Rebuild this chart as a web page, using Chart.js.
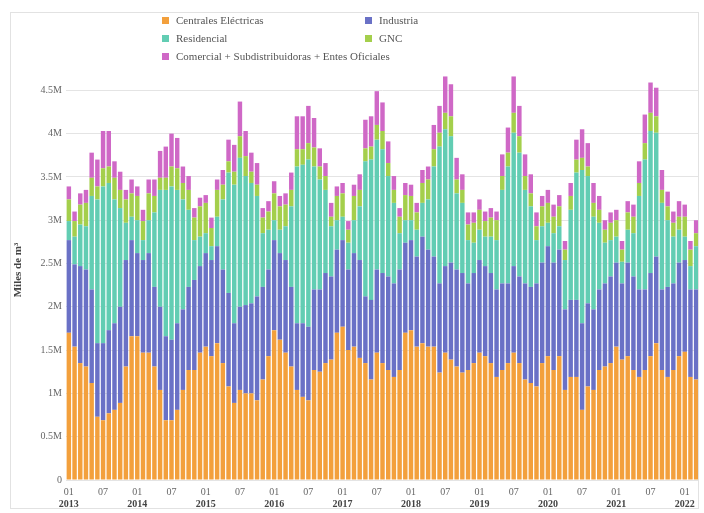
<!DOCTYPE html>
<html>
<head>
<meta charset="utf-8">
<script src="https://cdn.jsdelivr.net/npm/chart.js@4/dist/chart.umd.min.js"></script>
<style>
  html, body { margin:0; padding:0; background:#fff; }
  #wrap { position:relative; width:704px; height:513px; }
  #frame { position:absolute; left:10px; top:12px; width:689px; height:497px; border:1px solid #e2e2e2; box-sizing:border-box; pointer-events:none; }
  canvas { position:absolute; left:0; top:0; }
  .lg { position:absolute; font-family:"Liberation Serif", serif; font-size:11px; color:#555; line-height:12px; white-space:nowrap; }
  .lg i { display:inline-block; width:7px; height:7px; margin-right:7px; vertical-align:0px; }
</style>
</head>
<body>
<div id="wrap">
  <canvas id="c" width="704" height="513"></canvas>
  <div id="frame"></div>
  <div id="legend"></div>
</div>
<script>
// Categories: monthly, Jan 2013 .. Mar 2022
const startYear = 2013;
const categories = [];
for (let k = 0; k < 111; k++) {
  const y = startYear + Math.floor(k / 12);
  const m = (k % 12) + 1;
  categories.push(y + '-' + (m < 10 ? '0' + m : m));
}
const monthTickLabels = { '01': '01', '07': '07' };
const yTickLabels = ['0', '0.5M', '1M', '1.5M', '2M', '2.5M', '3M', '3.5M', '4M', '4.5M'];

// Values in millions of "miles de m³"
const centralesElectricas = [1.70,1.54,1.35,1.31,1.12,0.73,0.69,0.77,0.81,0.89,1.31,1.66,
1.66,1.47,1.47,1.31,1.04,0.69,0.69,0.81,1.04,1.27,1.27,1.47,
1.54,1.43,1.58,1.35,1.08,0.89,1.04,1.00,1.00,0.92,1.16,1.43,
1.73,1.62,1.47,1.31,1.04,0.96,0.92,1.27,1.25,1.35,1.39,1.70,
1.77,1.50,1.54,1.41,1.35,1.16,1.47,1.35,1.27,1.19,1.27,1.70,
1.73,1.54,1.58,1.54,1.54,1.24,1.47,1.39,1.31,1.24,1.27,1.35,
1.47,1.43,1.35,1.19,1.27,1.35,1.47,1.35,1.16,1.12,1.08,1.35,
1.43,1.27,1.43,1.04,1.19,1.19,0.81,1.08,1.04,1.27,1.31,1.35,
1.54,1.39,1.43,1.27,1.19,1.27,1.43,1.58,1.27,1.19,1.27,1.43,
1.48,1.19,1.16];

const industria = [1.07,0.95,1.12,1.12,1.08,0.85,0.89,0.96,1.00,1.11,1.23,1.11,
0.96,1.07,1.15,0.92,0.96,0.97,0.93,1.00,0.93,0.96,1.04,1.00,
1.08,1.11,1.12,1.08,1.08,0.92,0.96,1.02,1.04,1.20,1.07,1.00,
1.04,1.00,1.07,0.92,0.77,0.85,0.85,0.93,0.95,1.04,0.96,0.96,
1.00,0.93,1.08,1.13,0.77,0.92,0.96,1.04,1.08,1.08,1.16,1.04,
1.04,1.04,1.23,1.12,1.04,1.03,1.00,1.12,1.12,1.15,1.00,1.04,
1.07,1.04,1.04,1.01,1.00,0.92,1.00,1.00,1.11,1.11,1.19,1.16,
1.27,1.24,1.23,0.93,0.89,0.89,1.00,0.96,0.93,0.93,0.96,1.00,
0.97,0.88,1.08,1.08,1.01,0.93,0.96,1.00,0.93,1.04,1.00,1.08,
1.06,1.01,1.04];

const residencial = [0.22,0.32,0.48,0.50,1.08,1.66,1.81,1.70,1.43,1.14,0.43,0.27,
0.38,0.23,0.38,0.86,1.35,1.69,1.77,1.54,1.27,0.89,0.46,0.34,
0.23,0.16,0.34,0.81,1.39,1.60,1.72,1.49,1.39,1.16,0.62,0.46,
0.23,0.27,0.39,0.93,1.81,1.83,1.93,1.42,1.27,0.96,0.58,0.34,
0.27,0.31,0.38,0.62,1.56,1.62,1.50,1.43,1.16,0.93,0.42,0.26,
0.23,0.31,0.39,0.58,1.04,1.58,1.58,1.46,0.88,0.81,0.50,0.35,
0.35,0.34,0.42,0.57,1.08,1.35,1.54,1.43,1.08,0.93,0.50,0.42,
0.27,0.34,0.27,0.57,1.04,1.47,1.77,1.47,1.07,0.77,0.47,0.42,
0.30,0.25,0.38,0.50,1.08,1.50,1.64,1.43,1.00,0.77,0.54,0.38,
0.27,0.27,0.50];

const gnc = [0.25,0.18,0.23,0.27,0.21,0.15,0.21,0.19,0.25,0.21,0.27,0.27,
0.28,0.22,0.31,0.19,0.14,0.14,0.23,0.25,0.19,0.23,0.26,0.35,
0.35,0.21,0.31,0.17,0.13,0.15,0.25,0.23,0.13,0.13,0.18,0.21,
0.31,0.27,0.25,0.19,0.20,0.18,0.19,0.22,0.15,0.16,0.11,0.28,
0.27,0.15,0.28,0.19,0.15,0.15,0.17,0.21,0.15,0.15,0.19,0.29,
0.28,0.20,0.23,0.23,0.20,0.16,0.19,0.23,0.16,0.15,0.18,0.23,
0.23,0.18,0.22,0.23,0.16,0.16,0.23,0.19,0.16,0.15,0.16,0.23,
0.23,0.19,0.23,0.12,0.16,0.15,0.14,0.11,0.16,0.15,0.15,0.20,
0.19,0.14,0.20,0.19,0.15,0.19,0.21,0.19,0.15,0.16,0.16,0.15,
0.23,0.19,0.15];

const comercial = [0.15,0.11,0.13,0.15,0.29,0.31,0.43,0.41,0.19,0.21,0.11,0.16,
0.11,0.13,0.16,0.19,0.31,0.36,0.38,0.35,0.19,0.16,0.11,0.10,
0.09,0.12,0.12,0.17,0.25,0.31,0.40,0.29,0.22,0.25,0.11,0.12,
0.14,0.12,0.13,0.20,0.38,0.38,0.43,0.34,0.21,0.15,0.16,0.11,
0.12,0.10,0.13,0.18,0.33,0.35,0.39,0.33,0.25,0.16,0.10,0.14,
0.13,0.11,0.15,0.15,0.28,0.31,0.42,0.37,0.25,0.18,0.14,0.12,
0.12,0.11,0.11,0.10,0.25,0.29,0.42,0.35,0.25,0.22,0.16,0.12,
0.15,0.14,0.13,0.10,0.15,0.23,0.33,0.27,0.23,0.16,0.11,0.12,
0.12,0.10,0.13,0.14,0.25,0.33,0.35,0.33,0.23,0.17,0.13,0.18,
0.14,0.10,0.15];

const seriesNames = ['Centrales Eléctricas', 'Industria', 'Residencial', 'GNC', 'Comercial + Subdistribuidoras + Entes Oficiales'];
const seriesColors = ['#F3A03C', '#6A71C6', '#62CDB3', '#A4CF4C', '#CF68C6'];
const seriesData = [centralesElectricas, industria, residencial, gnc, comercial];

// HTML legend (two columns, like the reference)
const legendPos = [[162, 14], [365, 14], [162, 32], [365, 32], [162, 50]];
const lg = document.getElementById('legend');
seriesNames.forEach((name, s) => {
  const d = document.createElement('div');
  d.className = 'lg';
  d.style.left = legendPos[s][0] + 'px';
  d.style.top = legendPos[s][1] + 'px';
  d.innerHTML = '<i style="background:' + seriesColors[s] + '"></i>' + name;
  lg.appendChild(d);
});

const serif = '"Liberation Serif", "DejaVu Serif", serif';

function monthLabel(i) {
  const m = categories[i].slice(5);
  if (m === '01') return [monthTickLabels[m], categories[i].slice(0, 4)];
  if (m === '07') return [monthTickLabels[m], ''];
  return null;
}

// bold year row drawn under the month row, positioned from the x scale
const yearRowPlugin = {
  id: 'yearRow',
  afterDraw(chart) {
    const xs = chart.scales.x;
    const ctx = chart.ctx;
    ctx.save();
    ctx.font = 'bold 10px ' + serif;
    ctx.fillStyle = '#444';
    ctx.textAlign = 'center';
    ctx.textBaseline = 'middle';
    categories.forEach((c, i) => {
      if (c.slice(5) === '01') ctx.fillText(c.slice(0, 4), xs.getPixelForValue(i), 504);
    });
    ctx.restore();
  }
};

new Chart(document.getElementById('c'), {
  type: 'bar',
  data: {
    labels: categories,
    datasets: seriesData.map((arr, s) => ({
      label: seriesNames[s],
      data: arr,
      backgroundColor: seriesColors[s],
      borderWidth: 0,
      categoryPercentage: 1.0,
      barPercentage: 0.78
    }))
  },
  options: {
    responsive: false,
    animation: false,
    layout: { padding: { top: 60, right: 5, left: 10, bottom: 0 } },
    plugins: { legend: { display: false }, tooltip: { enabled: false } },
    scales: {
      x: {
        stacked: true,
        grid: { display: false, drawTicks: false },
        border: { display: false },
        ticks: {
          autoSkip: false, maxRotation: 0, minRotation: 0, padding: 6,
          color: '#666', font: { family: serif, size: 10 },
          callback: function (v, i) {
            const l = monthLabel(i);
            return l ? l[0] : '';
          }
        },
        afterFit: s => { s.height = 33; }
      },
      y: {
        stacked: true,
        min: 0,
        max: 4.85,
        grid: { color: '#e4e4e4', drawTicks: false },
        border: { display: false },
        ticks: {
          stepSize: 0.5, padding: 4,
          color: '#666', font: { family: serif, size: 10 },
          callback: function (v) {
            return yTickLabels[Math.round(v * 2)];
          }
        },
        afterBuildTicks: s => {
          s.ticks = s.ticks.filter(t => Math.abs(t.value * 2 - Math.round(t.value * 2)) < 1e-6);
        },
        title: {
          display: true, text: 'Miles de m³', color: '#444', padding: 2,
          font: { family: serif, size: 11, weight: 'bold' }
        },
        afterFit: s => { s.width = 56; }
      }
    }
  },
  plugins: [yearRowPlugin]
});
</script>
</body>
</html>
